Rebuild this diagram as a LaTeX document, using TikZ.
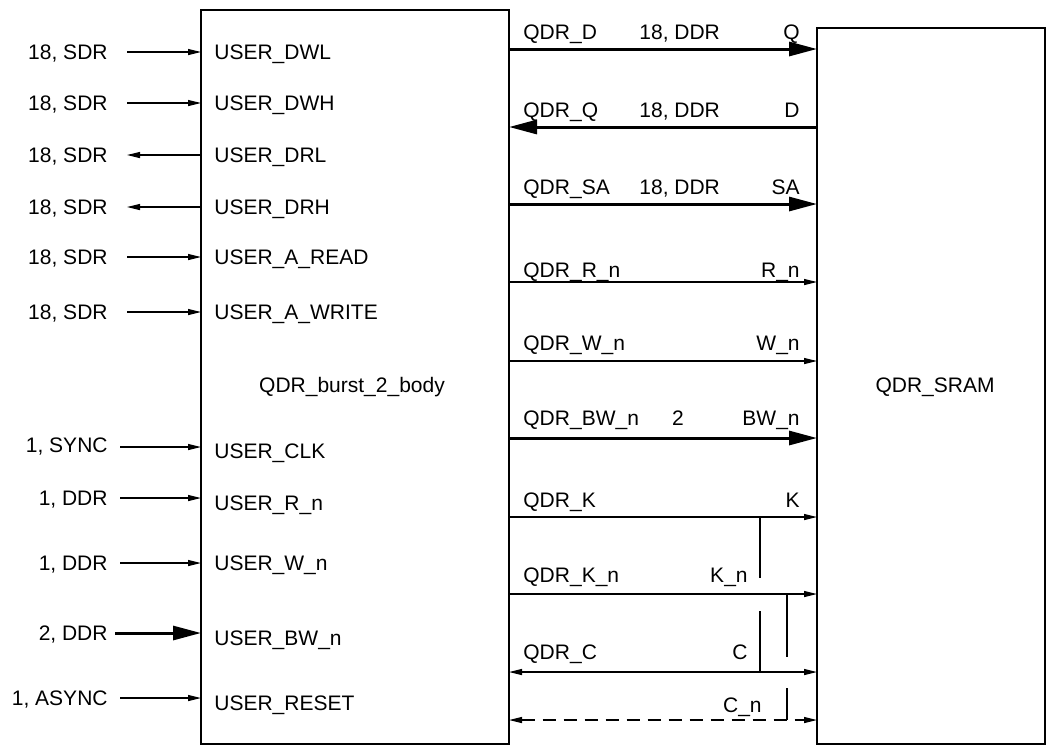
\documentclass[tikz,border=0pt]{standalone}
\usepackage{fontspec}
\setmainfont{Liberation Sans}
\usetikzlibrary{arrows.meta}
\newcommand\pinfont{\fontsize{10.5pt}{12pt}\selectfont}
\tikzset{
  box/.style={draw, line width=1.2pt, inner sep=0pt, outer sep=0pt},
  txt/.style={inner sep=0pt, font=\pinfont},
  sig/.style={line width=0.6pt, -{Triangle[length=6.5pt,width=3pt]}},
  sigback/.style={line width=0.6pt, {Triangle[length=6.5pt,width=3pt]}-},
  sigboth/.style={line width=0.6pt, {Triangle[length=6.5pt,width=3pt]}-{Triangle[length=6.5pt,width=3pt]}},
  sigdash/.style={sigboth, dash pattern=on 6.5pt off 4pt},
  bus/.style={line width=1.5pt, -{Triangle[length=14pt,width=7pt]}},
  busback/.style={line width=1.5pt, {Triangle[length=14pt,width=7pt]}-},
  tap/.style={line width=1pt}
}
\begin{document}
\begin{tikzpicture}[x=0.5pt, y=-0.5pt]
  \useasboundingbox (0,0) rectangle (1047,746);
  % Blocks
  \node[box, minimum width=154pt, minimum height=367pt] (body) at (355,377) {};
  \node[box, minimum width=114pt, minimum height=358pt] (sram) at (931,386) {};
  \node[txt, anchor=base] (bodyname) at (352,392) {QDR\_burst\_2\_body};
  \node[txt, anchor=base] (sramname) at (935,392) {QDR\_SRAM};
  % User side
  \foreach \n/\y/\eb/\pb/\sx/\st/\ext/\pin in {
    dwl/52/59/59/127/sig/{18, SDR}/{USER\_DWL},
    dwh/103/110/110/127/sig/{18, SDR}/{USER\_DWH},
    drl/155/162/162/127/sigback/{18, SDR}/{USER\_DRL},
    drh/207/214/214/127/sigback/{18, SDR}/{USER\_DRH},
    ard/257/264/264/127/sig/{18, SDR}/{USER\_A\_READ},
    awr/312/319/319/127/sig/{18, SDR}/{USER\_A\_WRITE},
    clk/447/452/458/120/sig/{1, SYNC}/{USER\_CLK},
    rn/498/505/510/120/sig/{1, DDR}/{USER\_R\_n},
    wn/563/570/570/120/sig/{1, DDR}/{USER\_W\_n},
    bwn/633/640/645/115/bus/{2, DDR}/{USER\_BW\_n},
    rst/698/705/710/120/sig/{1, ASYNC}/{USER\_RESET}} {
    \node[txt, anchor=base east] (ext-\n) at (108,\eb) {\ext};
    \node[txt, anchor=base west] (pin-\n) at (214,\pb) {\pin};
    \coordinate (src-\n) at (\sx,\y);
    \draw[\st] (src-\n) -- (src-\n -| body.west);
  }
  % Memory side
  \foreach \n/\y/\b/\st/\qdr/\pin/\px in {
    d/49/39/bus/{QDR\_D}/Q/800,
    q/127/117/busback/{QDR\_Q}/D/800,
    sa/204/194/bus/{QDR\_SA}/SA/800,
    r/282/277/sig/{QDR\_R\_n}/{R\_n}/800,
    w/361/350/sig/{QDR\_W\_n}/{W\_n}/800,
    bw/438/425/bus/{QDR\_BW\_n}/{BW\_n}/800,
    k/517/507/sig/{QDR\_K}/K/800,
    kn/594/582/sig/{QDR\_K\_n}/{K\_n}/748,
    c/672/659/sigboth/{QDR\_C}/C/748} {
    \node[txt, anchor=base west] (qdr-\n) at (523,\b) {\qdr};
    \node[txt, anchor=base east] (mem-\n) at (\px,\b) {\pin};
    \coordinate (out-\n) at (body.east |- 0,\y);
    \draw[\st] (out-\n) -- (out-\n -| sram.west);
  }
  \node[txt, anchor=base east] (mem-cn) at (762,712) {C\_n};
  \coordinate (out-cn) at (body.east |- 0,720);
  \draw[sigdash] (out-cn) -- (out-cn -| sram.west);
  % Widths
  \foreach \n/\b/\w in {d/39/{18, DDR}, q/117/{18, DDR}, sa/194/{18, DDR}}
    \node[txt, anchor=base west] (width-\n) at (639,\b) {\w};
  \node[txt, anchor=base] (width-bw) at (678,425) {2};
  % Clock loops
  \coordinate (tapA) at (760,0);
  \coordinate (tapB) at (787,0);
  \draw[tap] (out-k -| tapA) -- ++(0,61);
  \draw[tap] (out-c -| tapA) -- ++(0,-61);
  \draw[tap] (out-kn -| tapB) -- ++(0,63);
  \draw[tap] (out-cn -| tapB) -- ++(0,-32);
\end{tikzpicture}
\end{document}
